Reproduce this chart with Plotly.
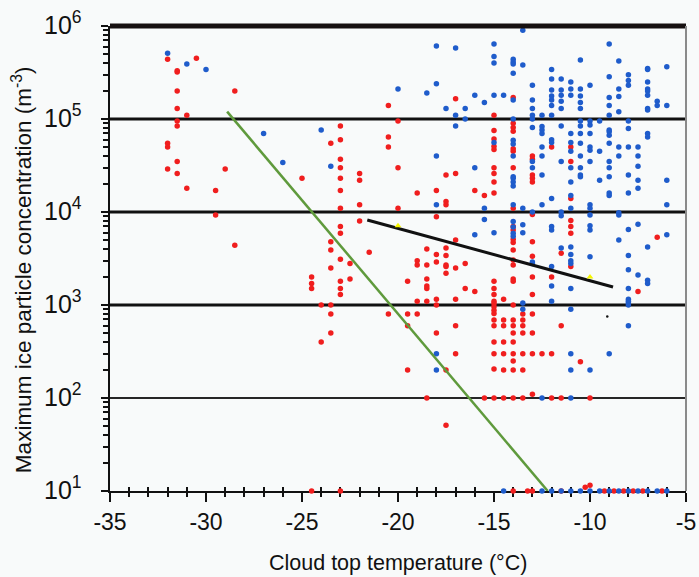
import math
import plotly.graph_objects as go

# ---- axis definitions ----
x_range = [-35, -5]
x_ticks = [-35, -30, -25, -20, -15, -10, -5]
x_minor = [-34, -33, -32, -31, -29, -28, -27, -26, -24, -23, -22, -21, -19, -18, -17, -16,
           -14, -13, -12, -11, -9, -8, -7, -6]
y_ticks = [1e1, 1e2, 1e3, 1e4, 1e5, 1e6]
y_tick_text = ["10<sup>1</sup>", "10<sup>2</sup>", "10<sup>3</sup>", "10<sup>4</sup>",
               "10<sup>5</sup>", "10<sup>6</sup>"]
ref_levels = [1e2, 1e3, 1e4, 1e5]
x_title = "Cloud top temperature (°C)"
y_title = "Maximum ice particle concentration (m<sup>-3</sup>)"

# ---- red observations: temperature columns and concentrations (m^-3) ----
red_columns = [-32, -31.5, -31, -30.5, -29.5, -29, -28.5, -25, -24.5, -24, -23.5, -23, -22.5, -22,
               -21.5, -20.5, -20, -19.5, -19, -18.5, -18, -17.5, -17, -16.5, -16, -15.5, -15,
               -14.5, -14, -13.5, -13.25, -13, -12.5, -12, -11.5, -11, -10.5, -10.25, -10,
               -9.25, -8.75, -8.25, -7.75, -7.5, -7.25, -6.5, -6.25]
red_values = [
    [4.4e5, 5.5e4, 5.0e4, 2.9e4],
    [3.3e5, 3.2e5, 2.0e5, 1.3e5, 9.5e4, 8.4e4, 3.5e4, 2.6e4],
    [1.1e5, 1.8e4],
    [4.5e5],
    [1.7e4, 9.3e3],
    [2.9e4],
    [2.0e5, 4.4e3],
    [2.3e4],
    [2.0e3, 1.7e3, 1.5e3, 10],
    [1.0e3, 4.0e2],
    [5.5e4, 4.8e3, 3.9e3, 2.5e3, 1.0e3, 8.0e2, 5.0e2],
    [8.4e4, 6.0e4, 3.7e4, 3.0e4, 2.3e4, 1.7e4, 1.1e4, 7.0e3, 5.9e3, 3.1e3, 1.8e3, 1.5e3, 1.3e3, 10],
    [2.8e3, 1.9e3],
    [2.6e4, 2.2e4, 1.2e4, 8.0e3],
    [3.7e3],
    [1.4e5, 6.4e4, 5.0e4, 8.0e2],
    [9.5e4, 3.0e4, 1.1e4],
    [1.8e3, 8.0e2, 6.0e2, 2.0e2],
    [1.6e4, 3.0e3, 2.7e3, 1.1e3, 8.0e2],
    [4.0e3, 2.7e3, 1.9e3, 1.6e3, 1.5e3, 1.1e3, 1.0e2],
    [1.7e4, 8.9e3, 3.5e3, 2.9e3, 1.15e3, 1.0e3, 5.0e2],
    [2.5e4, 1.3e4, 1.2e4, 4.1e3, 3.4e3, 2.7e3, 2.6e3, 2.2e3, 2.0e2, 51],
    [1.65e5, 2.6e4, 5.0e3, 2.5e3, 1.15e3, 6.0e2, 3.0e2],
    [2.8e3, 1.5e3],
    [1.7e4, 1.4e3],
    [1.5e4, 1.0e2],
    [1.1e5, 7.5e4, 6.1e4, 5.1e4, 4.7e4, 3.0e4, 2.6e4, 2.1e4, 1.6e4, 1.8e3, 1.5e3, 1.3e3, 1.1e3,
     1.04e3, 9.6e2, 8.8e2, 8.1e2, 6.9e2, 6.0e2, 4.0e2, 3.0e2, 2.05e2, 1.0e2],
    [1.15e3, 6.9e2, 6.0e2, 4.0e2, 3.0e2, 2.0e2, 1.0e2],
    [1.7e5, 9.0e4, 8.1e4, 7.4e4, 4.8e4, 4.5e4, 3.0e4, 1.1e4, 7.0e3, 6.4e3, 5.1e3, 4.7e3, 3.9e3,
     3.05e3, 2.7e3, 1.9e3, 1.8e3, 1.0e3, 6.9e2, 6.0e2, 5.0e2, 4.0e2, 3.0e2, 2.5e2, 2.0e2, 1.0e2, 10],
    [8.0e2, 6.9e2, 6.0e2, 5.0e2, 3.0e2, 2.0e2, 1.0e2],
    [10],
    [4.0e4, 3.7e4, 2.5e4, 2.3e4, 2.1e4, 9.4e3, 4.8e3, 3.35e3, 2.0e3, 1.3e3, 8.0e2, 5.0e2, 3.0e2,
     1.1e2, 10],
    [3.0e2],
    [5.0e4, 2.0e3, 3.0e2, 1.0e2],
    [3.6e3, 6.0e2, 1.0e2, 10],
    [5.0e4, 3.5e4, 1.4e4, 8.1e3, 7.0e3, 5.9e3, 2.6e3],
    [2.45e2],
    [11],
    [1.0e2, 11.5],
    [10], [10], [10], [10],
    [1.4e3],
    [10],
    [5.35e3],
    [10],
]

# ---- blue observations ----
blue_columns = [-32, -31, -30, -27, -26, -24, -23.5, -20, -18.5, -18, -17.5, -17, -16.5, -16,
                -15.5, -15, -14.5, -14, -13.5, -13, -12.5, -12, -11.5, -11, -10.5, -10, -9.5,
                -9, -8.5, -8, -7.5, -7, -6.5, -6]
blue_values = [
    [5.1e5],
    [3.9e5],
    [3.4e5],
    [7.0e4],
    [3.4e4],
    [7.6e4],
    [3.1e4],
    [2.1e5],
    [1.9e5],
    [6.1e5, 2.4e5, 4.0e4, 1.2e4, 3.0e2, 2.0e2],
    [1.3e5],
    [5.8e5, 1.1e5, 8.4e4],
    [1.3e5, 1.0e5],
    [1.8e5, 3.0e4, 5.7e3],
    [1.5e5, 1.1e4, 8.3e3],
    [6.4e5, 4.7e5, 4.0e5, 1.8e5, 5.6e4, 6.0e3],
    [1.8e5, 10],
    [4.4e5, 4.1e5, 3.9e5, 3.1e5, 1.6e5, 1.0e5, 5.9e4, 5.4e4, 4.0e4, 2.4e4, 2.3e4, 2.1e4, 1.9e4,
     1.2e4, 7.9e3, 6.9e3, 5.9e3, 5.5e3],
    [9.0e5, 3.8e5, 1.1e4, 7.3e3, 6.0e3, 1.05e3, 9.0e2],
    [2.3e5, 1.6e5, 1.3e5, 1.1e5, 1.0e5, 8.1e4, 3.5e4, 3.0e4, 1.0e4, 2.9e3, 2.8e3],
    [1.1e5, 8.3e4, 7.6e4, 7.0e4, 5.0e4, 4.0e4, 2.5e4, 1.2e4, 1.0e2, 10],
    [3.4e5, 2.7e5, 2.05e5, 1.77e5, 1.6e5, 1.4e5, 1.1e5, 6.0e4, 5.6e4, 1.4e4, 7.0e3, 6.4e3, 2.6e3,
     1.6e3, 1.1e3, 10],
    [2.7e5, 2.05e5, 1.8e5, 1.55e5, 1.3e5, 8.4e4, 3.5e4, 1.0e4, 9.1e3, 4.1e3, 10],
    [2.5e5, 2.1e5, 1.8e5, 7.0e4, 5.6e4, 4.5e4, 3.0e4, 2.1e4, 1.5e4, 1.1e4, 4.2e3, 3.5e3, 3.0e3,
     2.8e3, 1.5e3, 9.0e2, 3.0e2, 2.0e2, 1.0e2, 10],
    [4.3e5, 2.1e5, 1.77e5, 1.5e5, 1.3e5, 9.5e4, 8.4e4, 7.0e4, 5.5e4, 4.0e4, 3.0e4, 2.5e4, 2.4e4, 10],
    [2.3e5, 9.5e4, 8.6e4, 7.0e4, 5.0e4, 4.6e4, 3.5e4, 1.2e4, 1.1e4, 9.3e3, 7.1e3, 6.4e3, 3.3e3,
     2.0e2, 10],
    [9.5e4, 4.5e4, 2.2e4, 10],
    [6.4e5, 2.85e5, 1.7e5, 1.4e5, 1.1e5, 7.6e4, 7.3e4, 6.7e4, 5.5e4, 3.5e4, 3.0e4, 2.4e4, 1.6e4,
     1.5e4, 3.0e2, 10],
    [4.2e5, 2.1e5, 1.75e5, 1.2e5, 5.0e4, 4.0e4, 9.8e3, 9.3e3, 5.0e3, 10],
    [3.0e5, 2.6e5, 2.3e5, 9.5e4, 7.9e4, 5.0e4, 2.5e4, 1.6e4, 6.5e3, 3.4e3, 2.4e3, 1.5e3, 1.15e3,
     1.1e3, 1.05e3, 1.0e3, 6.0e2, 10],
    [5.0e4, 4.0e4, 3.1e4, 2.2e4, 1.8e4, 7.4e3, 2.1e3, 10],
    [3.5e5, 3.4e5, 2.5e5, 2.1e5, 2.0e5, 1.8e5, 1.3e5, 1.25e5, 7.0e4, 6.4e4, 4.2e3, 1.85e3, 1.7e3, 10],
    [1.55e5, 1.4e5, 10],
    [3.65e5, 1.4e5, 2.2e4, 1.2e4, 5.7e3, 10],
]

# ---- fitted lines and highlighted points ----
green_temp = [-28.9, -12.2]
green_conc = [1.2e5, 10]
fit_temp = [-21.6, -8.8]
fit_conc = [8.2e3, 1.56e3]
yellow_temp = [-20.0, -10.0]
yellow_conc = [7.1e3, 2.0e3]
stray_temp = [-9.1]
stray_conc = [7.5e2]


def flatten(columns, values):
    xs, ys = [], []
    for t, vals in zip(columns, values):
        for v in vals:
            xs.append(t)
            ys.append(v)
    return xs, ys


red_x, red_y = flatten(red_columns, red_values)
blue_x, blue_y = flatten(blue_columns, blue_values)

FONT = "Liberation Sans, Arial, sans-serif"
BG = "#f8fafa"
INK = "#111111"

fig = go.Figure()

# horizontal decade reference lines
for lvl in ref_levels:
    heavy = lvl > 1e2
    fig.add_trace(go.Scatter(
        x=x_range, y=[lvl, lvl], mode="lines",
        line=dict(color=INK if heavy else "#262626", width=3 if heavy else 2),
        hoverinfo="skip", showlegend=False))

fig.add_trace(go.Scatter(
    x=red_x, y=red_y, mode="markers", cliponaxis=False,
    marker=dict(color="#f01e1e", size=5.5, line=dict(width=0)),
    showlegend=False))
fig.add_trace(go.Scatter(
    x=blue_x, y=blue_y, mode="markers", cliponaxis=False,
    marker=dict(color="#1f5ccb", size=5.5, line=dict(width=0)),
    showlegend=False))

fig.add_trace(go.Scatter(
    x=green_temp, y=green_conc, mode="lines",
    line=dict(color="#5f9a3c", width=2.5), showlegend=False))
fig.add_trace(go.Scatter(
    x=fit_temp, y=fit_conc, mode="lines",
    line=dict(color=INK, width=3), showlegend=False))
fig.add_trace(go.Scatter(
    x=yellow_temp, y=yellow_conc, mode="markers",
    marker=dict(symbol="triangle-up", color="#f5f500", size=6), showlegend=False))
fig.add_trace(go.Scatter(
    x=stray_temp, y=stray_conc, mode="markers",
    marker=dict(color=INK, size=2.5), showlegend=False))

# frame: heavy top edge and grey right edge
fig.add_shape(type="line", xref="paper", yref="paper", x0=0, x1=1, y0=1, y1=1,
              line=dict(color="#161010", width=5))
fig.add_shape(type="line", xref="paper", yref="paper", x0=1, x1=1, y0=0, y1=1,
              line=dict(color="#8a8a8a", width=2))

# decade labels on the log axis (annotation y is the exponent on log axes)
for val, txt in zip(y_ticks, y_tick_text):
    fig.add_annotation(text=txt, xref="paper", x=0, yref="y", y=math.log10(val),
                       xanchor="right", yanchor="middle", xshift=-26, yshift=3,
                       showarrow=False, font=dict(size=25, family=FONT, color=INK))

# axis titles
fig.add_annotation(text=x_title, xref="paper", x=0.5, yref="paper", y=0,
                   xanchor="center", yanchor="middle", yshift=-72,
                   showarrow=False, font=dict(size=21.5, family=FONT, color=INK))
fig.add_annotation(text=y_title, xref="paper", x=0, yref="paper", y=0.475,
                   xanchor="center", yanchor="middle", xshift=-88, textangle=-90,
                   showarrow=False, font=dict(size=22.5, family=FONT, color=INK))

fig.update_layout(
    width=699, height=577,
    margin=dict(l=110, r=13, t=26, b=86),
    paper_bgcolor=BG, plot_bgcolor=BG,
    font=dict(family=FONT, color=INK),
    xaxis=dict(
        range=x_range, tickvals=x_ticks, ticktext=[str(v) for v in x_ticks],
        ticks="outside", ticklen=9, tickwidth=2, tickcolor=INK,
        showline=True, linecolor=INK, linewidth=2, layer="below traces",
        showgrid=False, zeroline=False, automargin=False,
        minor=dict(tickvals=x_minor, ticks="outside", ticklen=4, tickwidth=2,
                   tickcolor=INK, showgrid=False),
        tickfont=dict(size=23, family=FONT),
    ),
    xaxis2=dict(
        overlaying="x", anchor="y", side="bottom", range=x_range,
        tickvals=x_minor, ticks="inside", ticklen=4, tickwidth=2, tickcolor=INK,
        showticklabels=False, showgrid=False, zeroline=False, showline=False,
        layer="below traces", automargin=False,
    ),
    yaxis=dict(
        type="log", range=[1, 6], tickvals=y_ticks, showticklabels=False,
        ticks="outside", ticklen=7, tickwidth=2, tickcolor=INK,
        showline=True, linecolor=INK, linewidth=2, layer="below traces",
        showgrid=False, zeroline=False, automargin=False,
        minor=dict(dtick="D1", ticks="outside", ticklen=5, tickwidth=1.5,
                   tickcolor=INK, showgrid=False),
    ),
)

# invisible trace so the overlaid tick axis is rendered
fig.add_trace(go.Scatter(x=[x_range[0]], y=[y_ticks[0]], xaxis="x2", mode="markers",
                         marker=dict(opacity=0), hoverinfo="skip", showlegend=False))

fig.write_html("out.html")
